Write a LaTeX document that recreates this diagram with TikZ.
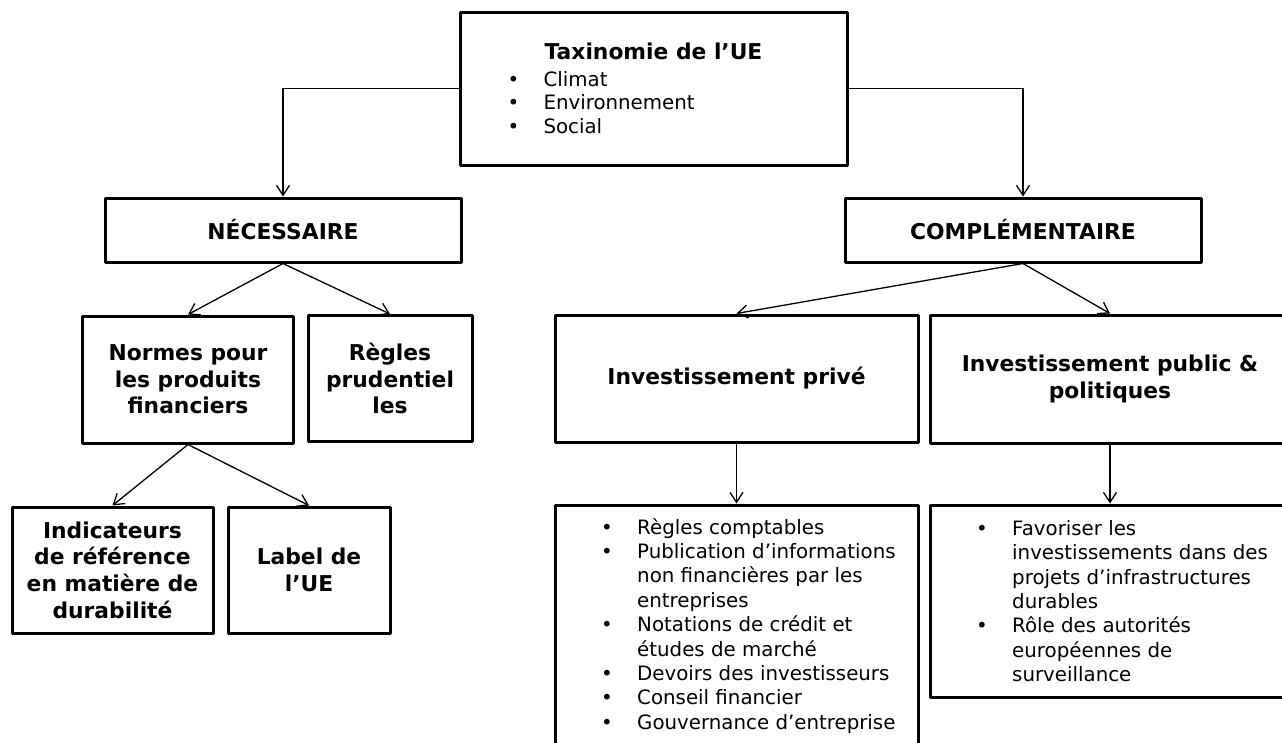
\documentclass[tikz,border=0pt]{standalone}
\usepackage{fontspec}
\setmainfont{DejaVu Sans}
\usetikzlibrary{arrows.meta}

\newcommand{\puce}{\makebox[36pt][l]{•}}
\newcommand{\suite}{\hspace*{36pt}}

\begin{document}
\begin{tikzpicture}[x=1pt,y=-1pt]
  \tikzset{box/.style = {draw, line width=3pt, line join=round, inner sep=0pt, align=center,
      font=\bfseries\fontsize{21.8}{26.6}\selectfont}}
  \tikzset{list/.style = {inner sep=0pt, align=left, anchor=north west,
      font=\fontsize{19.8}{24.4}\selectfont}}
  \tikzset{edge/.style = {line width=1.3pt, -{Straight Barb[length=10pt,width=13pt]}}}

  \useasboundingbox (0,0) rectangle (1282,742);

  % vertices
  \node[box, minimum width=387pt, minimum height=153pt, align=left,
        font=\fontsize{19.8}{23.5}\selectfont] (tax) at (653.5,88.5)
    {\makebox[292pt]{\bfseries\fontsize{21.8}{26.6}\selectfont Taxinomie de l’UE}\\[3pt]
     \puce Climat\\ \puce Environnement\\ \puce Social};
  \node[box, minimum width=356pt, minimum height=64pt] (nec) at (283,230) {NÉCESSAIRE};
  \node[box, minimum width=356pt, minimum height=64pt] (comp) at (1023,230) {COMPLÉMENTAIRE};

  \node[box, minimum width=211pt, minimum height=127pt] (normes) at (188,379.5)
    {Normes pour\\les produits\\financiers};
  \node[box, minimum width=164pt, minimum height=126pt] (regles) at (390,378.5)
    {Règles\\prudentiel\\les};
  \node[box, minimum width=363pt, minimum height=127pt] (prive) at (736.5,378.5)
    {Investissement privé};
  \node[box, minimum width=360pt, minimum height=128pt] (public) at (1110,379)
    {Investissement public \&\\politiques};

  \node[box, minimum width=201pt, minimum height=126pt] (indic) at (112.5,570)
    {Indicateurs\\de référence\\en matière de\\durabilité};
  \node[box, minimum width=162pt, minimum height=126pt] (label) at (309,570)
    {Label de\\l’UE};

  \node[box, minimum width=363pt, minimum height=255pt] (lprive) at (736.5,632.5) {};
  \node[box, minimum width=360pt, minimum height=192pt] (lpublic) at (1110,601) {};
  \node[list] (tprive) at (601,518)
    {\puce Règles comptables\\ \puce Publication d’informations\\
     \suite non financières par les\\ \suite entreprises\\
     \puce Notations de crédit et\\ \suite études de marché\\
     \puce Devoirs des investisseurs\\ \puce Conseil financier\\
     \puce Gouvernance d’entreprise};
  \node[list] (tpublic) at (976,520)
    {\puce Favoriser les\\ \suite investissements dans des\\
     \suite projets d’infrastructures\\ \suite durables\\
     \puce Rôle des autorités\\ \suite européennes de\\ \suite surveillance};

  % edges
  \draw[edge] (tax.west) -| (nec.north);
  \draw[edge] (tax.east) -| (comp.north);
  \foreach \y in {normes,regles} {\draw[edge] (nec.south) -- (\y.north);}
  \foreach \y in {prive,public} {\draw[edge] (comp.south) -- (\y.north);}
  \foreach \y in {indic,label} {\draw[edge] (normes.south) -- (\y.north);}
  \draw[edge] (prive.south) -- (lprive.north);
  \draw[edge] (public.south) -- (lpublic.north);

\end{tikzpicture}
\end{document}
